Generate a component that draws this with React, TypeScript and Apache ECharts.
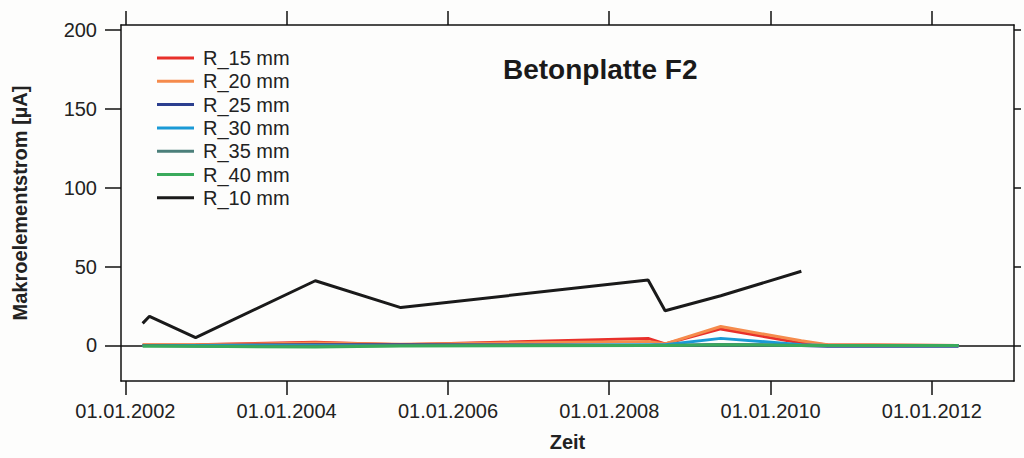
import React, { useEffect, useRef } from "react";
import * as echarts from "echarts";

const dates = ["2002-03-20", "2002-04-20", "2002-11-15", "2004-05-10", "2005-06-01", "2008-06-25", "2008-09-10", "2009-05-20", "2010-05-20", "2010-09-15", "2012-05-01"];
const r10 = [14, 18.5, 5, 41, 24, 41.5, 22, 31.5, 47, null, null];
const r15 = [0.3, 0.3, 0.5, 2, 0.5, 4.5, 1, 10.5, 1.5, 0.5, 0];
const r20 = [0.5, 0.5, 0.5, 1.5, 0.8, 2.5, 1, 12, 3, 0.5, 0];
const r25 = [0, 0, 0, 0.5, 0.5, 0, 0, 0.5, 0, -0.5, -0.5];
const r30 = [0, 0, 0, 0, 0, 0.5, 0.5, 4.5, 0.5, 0, 0];
const r35 = [0, 0, -0.5, -0.5, 0, 0, 0, 0.5, 0, 0, 0];
const r40 = [-0.5, -0.5, -0.5, -1, -0.3, 0, 0, 0.5, 0, 0, 0];

const seriesNames = ["R_15 mm", "R_20 mm", "R_25 mm", "R_30 mm", "R_35 mm", "R_40 mm", "R_10 mm"];
const seriesValues = [r15, r20, r25, r30, r35, r40, r10];
const seriesColors = ["#e8302a", "#f58b4c", "#2b3f8f", "#1a9ad6", "#4b7f7a", "#3aaa5c", "#1a1a1a"];

const yTicks = [0, 50, 100, 150, 200];
const xTickDates = ["2002-01-01", "2004-01-01", "2006-01-01", "2008-01-01", "2010-01-01", "2012-01-01"];
const xMin = "2001-12-12";
const xMax = "2013-01-07";
const yMin = -22.5;
const yMax = 203;

const FONT = "'Liberation Sans', Arial, sans-serif";

function ts(s: string) {
  const [y, m, d] = s.split("-").map(Number);
  return Date.UTC(y, m - 1, d);
}

function fmtDate(v: number) {
  const d = new Date(v);
  const dd = String(d.getUTCDate()).padStart(2, "0");
  const mm = String(d.getUTCMonth() + 1).padStart(2, "0");
  return dd + "." + mm + "." + d.getUTCFullYear();
}

export default function App() {
  const ref = useRef<HTMLDivElement>(null);
  useEffect(() => {
    if (!ref.current) return;
    const chart = echarts.init(ref.current, null, { renderer: "svg" });
    const xTicks = xTickDates.map(ts);
    const axisLine = { show: true, onZero: false, lineStyle: { color: "#111", width: 1.5 } };
    const tickStyle = { color: "#111", width: 1.5 };
    const series: any[] = seriesNames.map((name, i) => ({
      name,
      type: "line",
      symbol: "none",
      showSymbol: false,
      connectNulls: false,
      data: dates.map((d, j) => [ts(d), seriesValues[i][j]]),
      lineStyle: { color: seriesColors[i], width: 3 },
      itemStyle: { color: seriesColors[i] },
      z: 3 + i,
    }));
    series[0].markLine = {
      silent: true,
      symbol: "none",
      label: { show: false },
      lineStyle: { color: "#111", width: 1.5, type: "solid" },
      data: [{ yAxis: 0 }],
      z: 1,
    };
    chart.setOption({
      animation: false,
      backgroundColor: "#fdfdfc",
      textStyle: { fontFamily: FONT },
      title: {
        text: "Betonplatte F2",
        left: 503,
        top: 55,
        padding: 0,
        textStyle: { fontFamily: FONT, fontSize: 28, fontWeight: "bold", color: "#1a1a1a" },
      },
      legend: {
        orient: "vertical",
        left: 152,
        top: 43,
        icon: "rect",
        itemWidth: 37,
        itemHeight: 3,
        itemGap: 3.3,
        data: seriesNames,
        textStyle: { fontFamily: FONT, fontSize: 20, color: "#222", lineHeight: 20, padding: [0, 0, 0, 4] },
      },
      grid: { left: 121, right: 10, top: 25, bottom: 77, show: false },
      xAxis: [
        {
          type: "value",
          min: ts(xMin),
          max: ts(xMax),
          position: "bottom",
          axisLine,
          axisTick: { show: true, length: 14, customValues: xTicks, lineStyle: tickStyle },
          axisLabel: {
            customValues: xTicks,
            formatter: (v: number) => fmtDate(v),
            fontFamily: FONT,
            fontSize: 20,
            color: "#222",
            margin: 20,
          },
          splitLine: { show: false },
          name: "Zeit",
          nameLocation: "middle",
          nameGap: 51,
          nameTextStyle: { fontFamily: FONT, fontSize: 20, fontWeight: "bold", color: "#222" },
        },
        {
          type: "value",
          min: ts(xMin),
          max: ts(xMax),
          position: "top",
          axisLine,
          axisTick: { show: true, length: 14, customValues: xTicks, lineStyle: tickStyle },
          axisLabel: { show: false },
          splitLine: { show: false },
        },
      ],
      yAxis: [
        {
          type: "value",
          min: yMin,
          max: yMax,
          position: "left",
          axisLine,
          axisTick: { show: true, length: 16, customValues: yTicks, lineStyle: tickStyle },
          axisLabel: { customValues: yTicks, fontFamily: FONT, fontSize: 20, color: "#222", margin: 24 },
          splitLine: { show: false },
          name: "Makroelementstrom [µA]",
          nameLocation: "middle",
          nameGap: 91,
          nameTextStyle: { fontFamily: FONT, fontSize: 20, fontWeight: "bold", color: "#222" },
        },
        {
          type: "value",
          min: yMin,
          max: yMax,
          position: "right",
          axisLine,
          axisTick: { show: true, length: 7, customValues: yTicks, lineStyle: tickStyle },
          axisLabel: { show: false },
          splitLine: { show: false },
        },
      ],
      series,
    });
    return () => chart.dispose();
  }, []);
  return (
    <div
      ref={ref}
      style={{ position: "absolute", left: 0, top: 0, width: 1024, height: 458 }}
    />
  );
}
